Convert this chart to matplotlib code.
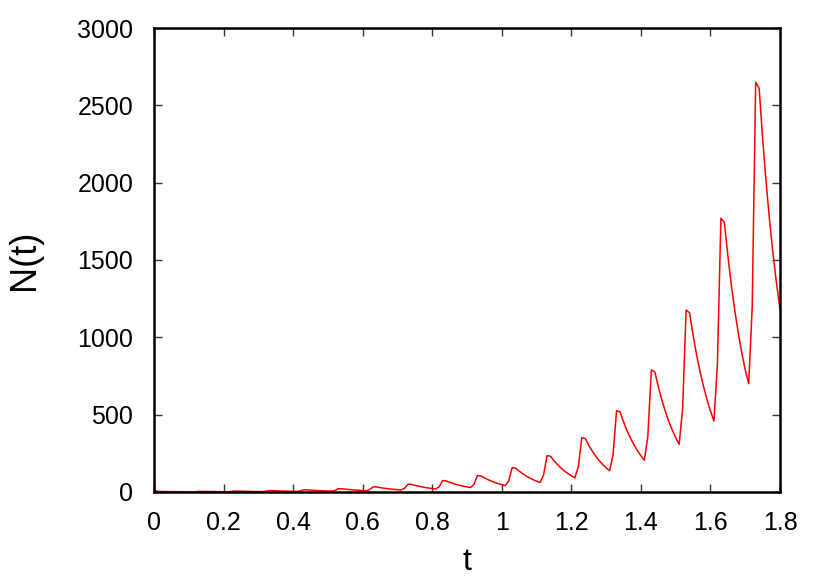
import numpy as np
import matplotlib.pyplot as plt

plt.rcParams['font.family'] = ['Liberation Sans', 'DejaVu Sans']

# time grid, step 0.01 from 0 to 1.8
t = np.round(np.arange(0, 181) * 0.01, 2)

# N(t), one row per 0.1 cycle
N = [
    12, 4.5, 3.2, 2.8, 2.5, 2.2, 1.9, 1.7, 1.5, 1.3, 1.1,
    1.0, 1.8, 4.0, 3.9, 3.4, 3.0, 2.6, 2.3, 2.0, 1.8,
    1.6, 2.8, 6.0, 5.9, 5.2, 4.5, 4.0, 3.5, 3.0, 2.7,
    2.4, 4.2, 9.0, 8.9, 7.8, 6.8, 6.0, 5.2, 4.6, 4.0,
    3.5, 6.3, 14, 13.8, 12.1, 10.6, 9.3, 8.1, 7.1, 6.2,
    5.4, 9.6, 21, 20.7, 18.1, 15.9, 13.9, 12.2, 10.7, 9.4,
    8.2, 14.9, 33, 32.5, 28.5, 24.9, 21.8, 19.1, 16.8, 14.7,
    12.9, 22.9, 50, 49.3, 43.2, 37.8, 33.1, 29.0, 25.4, 22.3,
    19.5, 33.9, 73, 71.9, 63.0, 55.1, 48.3, 42.3, 37.1, 32.5,
    28.5, 49.4, 106, 104.4, 91.5, 80.1, 70.2, 61.5, 53.9, 47.2,
    41.3, 72.5, 157, 154.6, 135.4, 118.6, 103.9, 91.1, 79.8, 69.9,
    61.2, 108.1, 235, 231.5, 202.8, 177.6, 155.6, 136.4, 119.5, 104.6,
    91.7, 161.7, 351, 345.7, 302.8, 265.2, 232.3, 203.6, 178.4, 156.3,
    137, 242, 526, 518.1, 453.9, 397.4, 348.2, 305.2, 267.3, 234.2,
    205, 363, 789, 777.2, 680.8, 596.1, 522.3, 457.8, 401.0, 351.3,
    308, 542, 1176, 1158.4, 1014.7, 888.5, 778.4, 682.3, 597.7, 523.6,
    459, 830, 1770, 1743.5, 1527.3, 1337.3, 1171.6, 1026.9, 899.6, 788.1,
    700, 1200, 2650, 2610, 2286, 2002, 1754, 1537, 1347, 1180,
]

xticks = [0, 0.2, 0.4, 0.6, 0.8, 1, 1.2, 1.4, 1.6, 1.8]
xtick_labels = ['0', '0.2', '0.4', '0.6', '0.8', '1', '1.2', '1.4', '1.6', '1.8']
yticks = [0, 500, 1000, 1500, 2000, 2500, 3000]

fig = plt.figure(figsize=(8.3, 5.81), dpi=100)
ax = fig.add_axes([0.1855, 0.1532, 0.7543, 0.7986])

ax.plot(t, N, color='red', lw=1.1)

ax.set_xlim(0, 1.8)
ax.set_ylim(0, 3000)
ax.set_xticks(xticks)
ax.set_xticklabels(xtick_labels)
ax.set_yticks(yticks)

ax.tick_params(direction='in', top=True, right=True, length=6, width=1,
               labelsize=18, color='#333333')
ax.tick_params(axis='x', pad=14)
ax.tick_params(axis='y', pad=15)
for s in ax.spines.values():
    s.set_linewidth(1.8)

ax.set_xlabel('t', fontsize=23, labelpad=8)
ax.set_ylabel('N(t)', fontsize=26, labelpad=25)

plt.savefig('out.png', dpi=100)
